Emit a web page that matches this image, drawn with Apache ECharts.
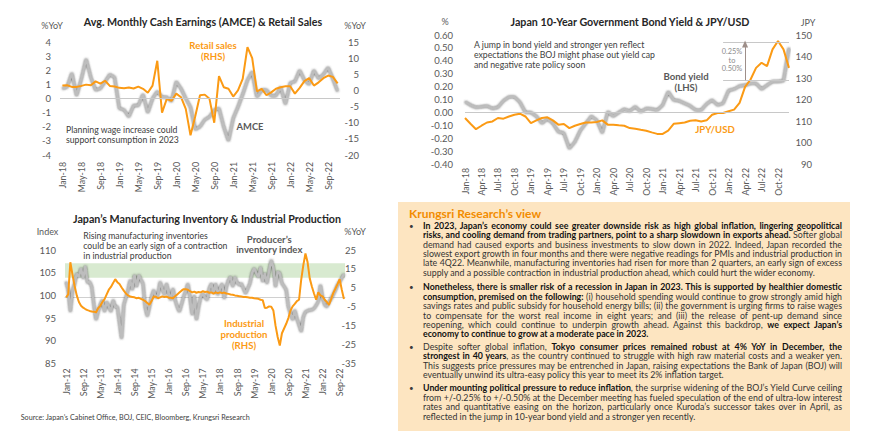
<!DOCTYPE html>
<html><head><meta charset="utf-8">
<script src="https://cdn.jsdelivr.net/npm/echarts@6/dist/echarts.min.js"></script>
<style>
html,body{margin:0;padding:0;background:#fff;}
#c{position:absolute;left:0;top:0;width:870px;height:442px;}
#panel{position:absolute;left:398px;top:202px;width:452px;height:229px;background:#fde5c1;font-family:Lato,'Open Sans',sans-serif;color:#333;}
#panel .ttl{position:absolute;left:11px;top:4.5px;font-size:12px;font-weight:700;color:#f28c00;line-height:13px;}
.ln{position:absolute;left:25px;width:419px;white-space:nowrap;font-size:8.8px;line-height:10px;}
.ln span{display:inline-block;transform-origin:0 50%;}
.bl{position:absolute;left:11px;font-size:8px;line-height:10px;color:#3c3c3c;}
.ln b{color:#111;font-weight:700;}
</style></head>
<body>
<div id="c"></div>
<div id="panel">
<div class="ttl">Krungsri Research’s view</div>
<div class="bl" style="top:18.7px">•</div>
<div class="ln j" style="top:18.7px"><span><b>In 2023, Japan’s economy could see greater downside risk as high global inflation, lingering geopolitical</b></span></div>
<div class="ln j" style="top:28.1px"><span><b>risks, and cooling demand from trading partners, point to a sharp slowdown in exports ahead.</b> Softer global</span></div>
<div class="ln j" style="top:37.5px"><span>demand had caused exports and business investments to slow down in 2022. Indeed, Japan recorded the</span></div>
<div class="ln j" style="top:46.9px"><span>slowest export growth in four months and there were negative readings for PMIs and industrial production in</span></div>
<div class="ln j" style="top:56.3px"><span>late 4Q22. Meanwhile, manufacturing inventories had risen for more than 2 quarters, an early sign of excess</span></div>
<div class="ln" style="top:65.7px"><span>supply and a possible contraction in industrial production ahead, which could hurt the wider economy.</span></div>
<div class="bl" style="top:80.3px">•</div>
<div class="ln j" style="top:80.3px"><span><b>Nonetheless, there is smaller risk of a recession in Japan in 2023. This is supported by healthier domestic</b></span></div>
<div class="ln j" style="top:89.7px"><span><b>consumption, premised on the following:</b> (i) household spending would continue to grow strongly amid high</span></div>
<div class="ln j" style="top:99.1px"><span>savings rates and public subsidy for household energy bills; (ii) the government is urging firms to raise wages</span></div>
<div class="ln j" style="top:108.5px"><span>to compensate for the worst real income in eight years; and (iii) the release of pent-up demand since</span></div>
<div class="ln j" style="top:117.9px"><span>reopening, which could continue to underpin growth ahead. Against this backdrop, <b>we expect Japan’s</b></span></div>
<div class="ln" style="top:127.3px"><span><b>economy to continue to grow at a moderate pace in 2023.</b></span></div>
<div class="bl" style="top:139.7px">•</div>
<div class="ln j" style="top:139.7px"><span>Despite softer global inflation, <b>Tokyo consumer prices remained robust at 4% YoY in December, the</b></span></div>
<div class="ln j" style="top:149.1px"><span><b>strongest in 40 years</b>, as the country continued to struggle with high raw material costs and a weaker yen.</span></div>
<div class="ln j" style="top:158.5px"><span>This suggests price pressures may be entrenched in Japan, raising expectations the Bank of Japan (BOJ) will</span></div>
<div class="ln" style="top:167.9px"><span>eventually unwind its ultra-easy policy this year to meet its 2% inflation target.</span></div>
<div class="bl" style="top:181.3px">•</div>
<div class="ln j" style="top:181.3px"><span><b>Under mounting political pressure to reduce inflation</b>, the surprise widening of the BOJ’s Yield Curve ceiling</span></div>
<div class="ln j" style="top:190.7px"><span>from +/-0.25% to +/-0.50% at the December meeting has fueled speculation of the end of ultra-low interest</span></div>
<div class="ln j" style="top:200.1px"><span>rates and quantitative easing on the horizon, particularly once Kuroda’s successor takes over in April, as</span></div>
<div class="ln" style="top:209.5px"><span>reflected in the jump in 10-year bond yield and a stronger yen recently.</span></div>
</div>
<script>
// ---------- categories ----------
const MON = ['Jan','Feb','Mar','Apr','May','Jun','Jul','Aug','Sep','Oct','Nov','Dec'];
function monthLabels(y0, count){const out=[];for(let i=0;i<count;i++){const m=i%12,y=y0+Math.floor(i/12);out.push(MON[m]+'-'+String(y%100).padStart(2,'0'));}return out;}
const catsEarn = monthLabels(2018, 59);   // Jan-18 .. Nov-22
const catsBond = monthLabels(2018, 60);   // Jan-18 .. Dec-22
const catsInv  = monthLabels(2012, 131);  // Jan-12 .. Nov-22

// ---------- chart 1: AMCE & retail sales (%YoY) ----------
const amce = [0.7,0.8,1.8,0.2,1.4,2.8,1.5,0.6,0.7,1.2,1.7,1.5,
  -0.7,-0.8,-1.3,-0.5,-0.5,0.3,-1.0,0.0,0.5,0.1,0.1,-0.2,
  1.2,0.7,0.0,-0.6,-2.2,-2.0,-1.5,-1.3,-0.8,-0.7,-2.0,-3.0,
  -1.4,-0.6,0.3,1.3,1.9,0.1,0.6,0.6,0.2,0.2,0.8,-0.4,
  1.1,1.2,2.0,1.3,1.0,2.0,1.4,1.7,2.2,1.4,0.5];
const retailSales = [1.5,1.6,1.1,1.1,1.4,1.8,1.6,2.8,2.1,3.0,1.4,1.2,
  0.8,0.7,0.9,0.6,1.2,0.5,-0.7,1.5,9.2,-6.9,-2.6,-3.2,
  -1.0,-2.1,-5.7,-13.9,-8.0,-1.5,-1.3,-2.6,-10.0,4.4,1.0,0.5,
  -1.9,0.0,3.6,13.4,10.0,-0.3,0.5,-1.5,-0.6,0.5,1.0,1.3,
  1.3,-1.0,0.8,2.9,3.8,1.5,2.5,3.8,4.6,4.2,2.2];

// ---------- chart 2: JGB 10Y yield (%) & JPY/USD ----------
const jgb10y = [0.083,0.057,0.039,0.044,0.05,0.03,0.04,0.09,0.12,0.12,0.08,0.0,
  0.0,-0.03,-0.085,-0.05,-0.085,-0.15,-0.16,-0.28,-0.23,-0.14,-0.085,-0.03,
  -0.06,-0.16,0.005,-0.03,0.0,0.026,0.01,0.044,0.005,0.031,0.026,0.018,
  0.057,0.16,0.096,0.09,0.07,0.05,0.018,0.018,0.065,0.096,0.057,0.07,
  0.17,0.18,0.205,0.21,0.225,0.225,0.18,0.21,0.24,0.24,0.245,0.50];
const jpyUsd = [111.4,108.7,106.2,107.8,109.3,109.8,111.4,111.1,112.1,112.9,113.4,112.1,
  109.0,110.3,111.4,111.7,110.3,108.3,108.6,106.7,107.8,108.6,109.3,109.3,
  109.5,110.3,108.3,108.3,108.0,107.8,106.7,106.4,105.9,105.5,104.7,104.0,
  104.0,105.5,108.7,109.0,109.3,110.1,110.3,109.8,110.3,112.9,113.7,113.7,
  114.5,115.3,118.4,125.9,129.3,134.7,137.1,135.5,143.3,147.2,143.3,134.7];

// ---------- chart 3: producer's inventory index & industrial production ----------
const inventoryIndex = [103.0,101.2,96.4,101.0,102.6,104.8,104.1,106.0,103.7,106.5,102.8,103.0,
  101.9,98.0,94.6,96.4,98.0,99.0,96.4,98.6,97.5,96.4,99.0,97.5,
  97.5,94.0,90.5,97.9,99.5,101.2,103.4,101.2,104.5,101.9,104.5,103.5,
  102.6,97.5,95.4,97.5,99.7,101.2,99.5,100.1,103.0,101.5,100.1,102.6,
  100.5,99.0,101.5,99.0,97.5,96.4,98.0,99.7,101.0,102.6,99.5,95.7,
  100.0,94.6,97.5,99.7,100.4,99.5,99.0,101.5,102.6,100.4,102.6,100.1,
  101.5,102.6,99.3,101.9,103.4,104.1,101.9,104.1,102.8,102.3,102.6,101.5,
  100.4,101.5,102.6,104.9,106.0,104.9,104.0,106.3,103.0,104.9,102.6,105.5,
  107.8,106.0,101.9,105.2,104.9,102.6,102.0,101.2,97.5,96.0,94.6,96.8,
  94.9,93.5,92.0,95.3,96.4,96.6,96.8,96.8,97.1,97.8,98.6,102.3,
  99.5,97.9,97.5,98.5,99.3,100.2,101.2,102.3,103.0,103.8,104.7];
const industrialProduction = [0,1.5,18.5,12,6,1,-2.5,-4.5,-5.5,-6.2,-6.8,-7.2,
  -7.5,-7.6,-8,-5.8,-4.5,-2.5,-1,1.5,4,5.5,7.5,9.6,
  8.0,7.0,5.2,3.5,2.0,1.0,0.4,0.2,0,-0.5,-0.3,-0.8,
  -1.3,-2.0,-3.0,-4.0,-2.0,0.4,0.3,-0.5,0.0,0.5,0.2,0.4,
  -0.2,-0.3,-0.5,0.5,1.5,2.5,3.5,4.3,4.2,4.0,3.2,2.6,
  3.0,2.4,2.8,2.6,3.2,2.8,3.0,2.4,2.6,2.0,2.6,2.2,
  2.6,2.2,2.5,2.0,1.8,1.5,1.3,1.0,0.8,0.6,0.4,0.2,
  0.2,0.0,-0.2,-0.3,-0.5,-0.6,-0.8,-1.3,-1.5,-5.7,-5.5,-4.8,
  -5.0,-7.0,-15,-21,-25.5,-19,-16.5,-14,-11,-7,-4.8,-3.5,
  -2.0,-1.3,9.2,17,23.2,18.5,10,5.7,2.0,-1.3,2.6,1.0,
  0.5,-1.3,-2.5,-4.0,-1.0,2.2,4.5,7.0,9.6,4.0,-0.9];
const invBand = [103.9, 107.1];

// ---------- ticks ----------
const earnLeftTicks = {min:-4,max:4,interval:1};
const earnRightTicks = {min:-20,max:15,interval:5};
const bondLeftTicks = {min:-0.4,max:0.6,interval:0.1};
const bondRightTicks = {min:90,max:150,interval:10};
const invLeftTicks = {min:85,max:110,interval:5};
const invRightTickValues = [-35,-25,-15,-5,5,15,25];

// ---------- style ----------
const FONT = 'Lato, "Open Sans", sans-serif';
const ORANGE = '#fb9a14';
const GREY = '#bdbdbd';
const AX = '#595959';
const greyLine = {color:GREY,width:2.4,shadowColor:'rgba(70,70,70,0.95)',shadowBlur:2};
const orangeLine = {color:ORANGE,width:2};

function xAx(grid, data, interval, margin){
  return {type:'category',gridIndex:grid,data:data,boundaryGap:true,
    axisLine:{show:false},axisTick:{show:false},splitLine:{show:false},
    axisLabel:{interval:interval,rotate:90,margin:margin,fontSize:8.8,color:AX,fontFamily:FONT}};
}
function yAx(grid, t, pos, margin, fmt, align){
  const o = {type:'value',gridIndex:grid,position:pos,min:t.min,max:t.max,
    splitLine:{show:false},axisLine:{show:false},axisTick:{show:false},
    axisLabel:{margin:margin,fontSize:9.5,color:AX,fontFamily:FONT,align:align}};
  if (t.interval!==undefined) o.interval=t.interval;
  if (fmt) o.axisLabel.formatter=fmt;
  return o;
}

const chart = echarts.init(document.getElementById('c'), null, {renderer:'svg',width:870,height:442});

const txt = (x,y,text,o) => Object.assign({type:'text',x:x,y:y,silent:true,
  style:Object.assign({text:text,fill:'#404040',font:'8.7px '+FONT,align:'left',verticalAlign:'middle',lineHeight:10},o||{})});

const invRight = yAx(2,{min:-35,max:25},'right',11,null,'right');
invRight.axisLabel.customValues = invRightTickValues;
invRight.axisTick.customValues = invRightTickValues;

const xBond = xAx(1,catsBond,2,4); xBond.boundaryGap=false;

chart.setOption({
  animation:false,
  grid:[
    {left:60,top:42,width:280,height:113},
    {left:465,top:35,width:324,height:129},
    {left:65,top:250,width:280,height:113.5}
  ],
  xAxis:[
    xAx(0,catsEarn,3,7),
    xBond,
    Object.assign(xAx(2,catsInv,7,5),{axisLine:{show:true,lineStyle:{color:'#d0d0d0',width:1}}})
  ],
  yAxis:[
    yAx(0,earnLeftTicks,'left',9,null,'right'),
    yAx(0,earnRightTicks,'right',19,null,'right'),
    yAx(1,bondLeftTicks,'left',12,v=>v.toFixed(2),'right'),
    yAx(1,bondRightTicks,'right',23,null,'right'),
    yAx(2,invLeftTicks,'left',9,null,'right'),
    invRight
  ],
  series:[
    {name:'AMCE',type:'line',xAxisIndex:0,yAxisIndex:0,data:amce,symbol:'none',lineStyle:greyLine,z:3,
      markLine:{silent:true,symbol:['none','none'],label:{show:false},lineStyle:{color:'#c8c8c8',width:1,type:'solid'},data:[{yAxis:0}]}},
    {name:'Retail sales (RHS)',type:'line',xAxisIndex:0,yAxisIndex:1,data:retailSales,symbol:'none',lineStyle:orangeLine,z:4},
    {name:'Bond yield (LHS)',type:'line',xAxisIndex:1,yAxisIndex:2,data:jgb10y,symbol:'none',lineStyle:greyLine,z:3,
      markLine:{silent:true,symbol:['none','none'],label:{show:false},lineStyle:{color:'#c8c8c8',width:1,type:'solid'},
        data:[
          {yAxis:0},
          [{coord:['Dec-21',0.54]},{coord:['Dec-22',0.54]}],
          [{coord:['Dec-21',0.25]},{coord:['Dec-22',0.25]}],
          [{coord:['Apr-22',0.25],lineStyle:{color:'#9e8f8a',width:1}},{coord:['Apr-22',0.53],symbol:'triangle',symbolSize:[6,7]}]
        ]}},
    {name:'JPY/USD',type:'line',xAxisIndex:1,yAxisIndex:3,data:jpyUsd,symbol:'none',lineStyle:orangeLine,z:4},
    {name:'Producer’s inventory index',type:'line',xAxisIndex:2,yAxisIndex:4,data:inventoryIndex,symbol:'none',lineStyle:greyLine,z:3,
      markArea:{silent:true,itemStyle:{color:'#d8ead0'},data:[[{yAxis:invBand[0]},{yAxis:invBand[1]}]]}},
    {name:'Industrial production (RHS)',type:'line',xAxisIndex:2,yAxisIndex:5,data:industrialProduction,symbol:'none',lineStyle:orangeLine,z:4}
  ],
  graphic:[
    txt(203,21.5,'Avg. Monthly Cash Earnings (AMCE) & Retail Sales',{font:'bold 10.7px '+FONT,fill:'#262626',align:'center'}),
    txt(52,25,'%YoY',{align:'center',fill:AX,font:'9px '+FONT}),
    txt(355,25,'%YoY',{align:'center',fill:AX,font:'9px '+FONT}),
    txt(213,51,'Retail sales\n(RHS)',{font:'bold 9.6px '+FONT,fill:ORANGE,align:'center',lineHeight:11}),
    txt(250,126,'AMCE',{font:'bold 9.4px '+FONT,fill:'#595959',align:'center'}),
    txt(66,134,'Planning wage increase could\nsupport consumption in 2023',{}),

    txt(630,21.5,'Japan 10-Year Government Bond Yield & JPY/USD',{font:'bold 10.7px '+FONT,fill:'#262626',align:'center'}),
    txt(445,21.5,'%',{align:'center',fill:AX,font:'9px '+FONT}),
    txt(808,22.5,'JPY',{align:'center',fill:AX,font:'9px '+FONT}),
    txt(474,54.3,'A jump in bond yield and stronger yen reflect\nexpectations the BOJ might phase out yield cap\nand negative rate policy soon',{}),
    txt(686,82,'Bond yield\n(LHS)',{font:'bold 9.6px '+FONT,fill:'#595959',align:'center',lineHeight:10.6}),
    txt(715,129,'JPY/USD',{font:'bold 9.6px '+FONT,fill:ORANGE,align:'center'}),
    txt(732,60,'0.25%\nto\n0.50%',{font:'7.4px '+FONT,fill:'#8c8c8c',align:'center',lineHeight:8.3}),

    txt(207,218.3,'Japan’s Manufacturing Inventory & Industrial Production',{font:'bold 10.7px '+FONT,fill:'#262626',align:'center'}),
    txt(47.5,231.7,'Index',{align:'center',fill:AX,font:'9px '+FONT}),
    txt(355,231.7,'%YoY',{align:'center',fill:AX,font:'9px '+FONT}),
    txt(83.3,245,'Rising manufacturing inventories\ncould be an early sign of a contraction\nin industrial production',{}),
    txt(269.3,244.3,'Producer’s\ninventory index',{font:'bold 9.6px '+FONT,fill:'#595959',align:'center'}),
    txt(244,334.5,'Industrial\nproduction\n(RHS)',{font:'bold 9.6px '+FONT,fill:ORANGE,align:'center',lineHeight:10.6}),
    txt(20.7,417.7,'Source: Japan’s Cabinet Office, BOJ, CEIC, Bloomberg, Krungsri Research',{font:'7.2px '+FONT,fill:'#404040'})
  ]
});

// justify / fit the text-panel lines
document.querySelectorAll('#panel .ln').forEach(function(ln){
  const sp = ln.querySelector('span');
  const W = 419;
  const w = sp.getBoundingClientRect().width;
  if (w > W) { sp.style.transform = 'scaleX(' + (W/w) + ')'; }
  else if (ln.classList.contains('j')) {
    const n = (sp.textContent.match(/ /g)||[]).length;
    if (n>0) sp.style.wordSpacing = ((W-w)/n) + 'px';
  }
});
</script>
</body></html>
